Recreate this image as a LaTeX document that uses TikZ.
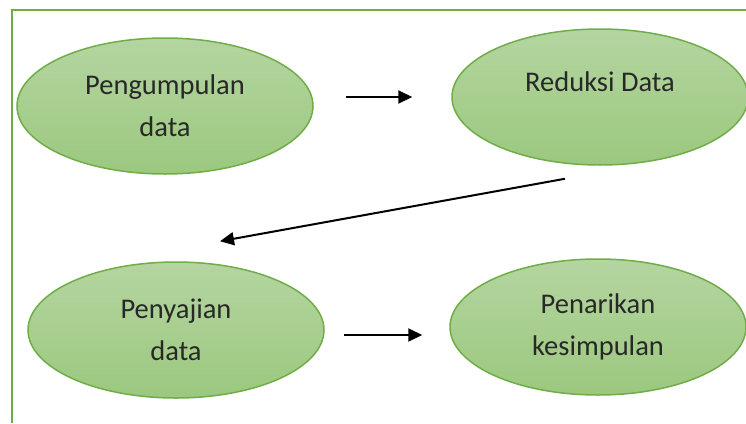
\documentclass[tikz,border=0pt]{standalone}
\usepackage{fontspec}
\setmainfont{Carlito}
\usetikzlibrary{shapes.geometric,arrows.meta,calc}
\definecolor{edgegreen}{RGB}{112,173,71}
\definecolor{topgreen}{RGB}{180,213,160}
\definecolor{botgreen}{RGB}{155,200,127}
\definecolor{txtgray}{RGB}{40,40,40}
\begin{document}
\begin{tikzpicture}[
            x=1pt, y=-1pt,
            font=\fontsize{28.5}{42}\selectfont,
            stage/.style={ellipse, draw=edgegreen, line width=1.5pt, top color=topgreen, bottom color=botgreen,
                minimum width=296pt, minimum height=136pt, inner sep=0pt, align=center, text=txtgray},
            arr/.style={line width=2pt, -{Triangle[length=14pt,width=13pt]}}
        ]
        \useasboundingbox (0,0) rectangle (746,423);

        % The Frame
        \draw[edgegreen, line width=2pt] (12,423) -- (12,10) -- (746,10);

        % The Stages
        \node[stage] (kumpul) at (165,106) {Pengumpulan \\ data}; \node[stage, text depth=30pt] (reduksi) at (600,97) {Reduksi Data};
        \node[stage] (sajian) at (176,330) {Penyajian \\ data}; \node[stage] (simpul) at (598,327) {Penarikan \\ kesimpulan};

        % The Arrows
        \draw[arr] ($(kumpul.east |- reduksi.west)+(32,0)$) -- ($(reduksi.west)+(-39,0)$);
        \draw[arr] ($(reduksi.south)+(-35,13)$) -- ($(sajian.north)+(44,-20)$);
        \draw[arr] ($(sajian.east)+(19,5)$) -- ($(simpul.west |- sajian.east)+(-27,5)$);

    \end{tikzpicture}
\end{document}
